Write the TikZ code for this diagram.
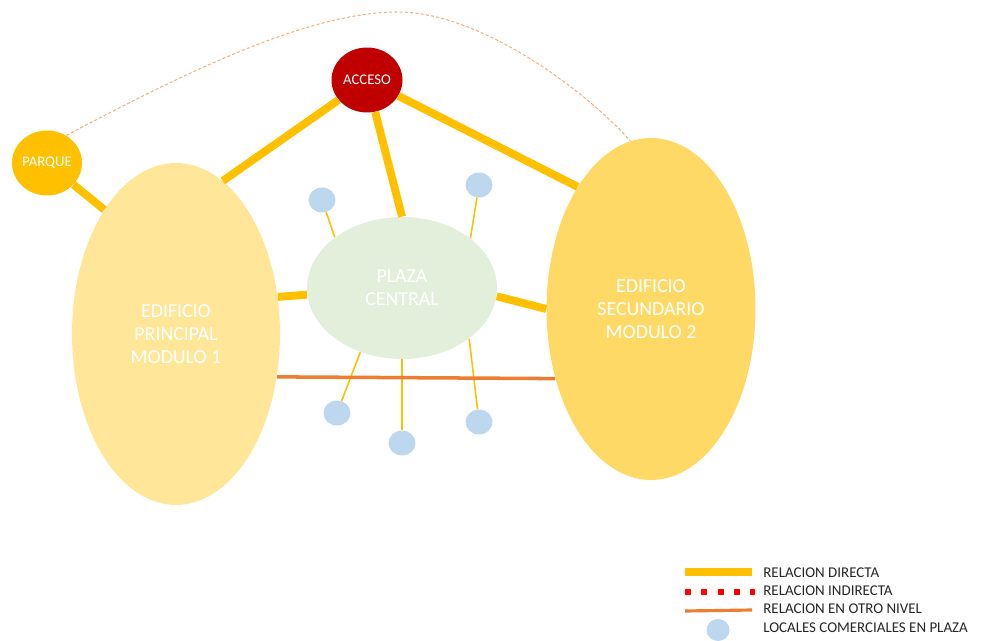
\documentclass[tikz,border=0pt]{standalone}
\usepackage{fontspec}
\setmainfont{Carlito}
\usetikzlibrary{shapes.geometric}
\definecolor{directa}{RGB}{255,192,0}
\definecolor{indirecta}{RGB}{255,0,0}
\definecolor{nivel}{RGB}{237,125,49}
\definecolor{curva}{RGB}{244,177,131}
\definecolor{acceso}{RGB}{192,0,0}
\definecolor{edifuno}{RGB}{255,230,153}
\definecolor{edifdos}{RGB}{255,217,102}
\definecolor{plaza}{RGB}{226,239,218}
\definecolor{local}{RGB}{189,215,238}

\begin{document}
\begin{tikzpicture}[x=0.02cm, y=-0.02cm,
    zona/.style={ellipse, inner sep=0pt, text=white, align=center, font=\fontsize{11.3}{13}\selectfont},
    punto/.style={ellipse, inner sep=0pt, text=white, font=\fontsize{8.4}{10}\selectfont},
    local/.style={ellipse, inner sep=0pt, fill=local, minimum width=0.54cm, minimum height=0.5cm},
    rdirecta/.style={draw=directa, line width=4.5pt},
    rlocal/.style={draw=directa, line width=0.9pt},
    rnivel/.style={draw=nivel, line width=2pt},
    leyenda/.style={anchor=west, inner sep=0pt, text=black!85, font=\fontsize{8.5}{10}\selectfont}]

  \newcommand{\loc}[3]{\node[local] (#1) at (#2, #3) {};}

  \useasboundingbox (0, 0) rectangle (982, 641);

  \begin{scope}
    \node[zona, fill=edifuno, minimum width=4.16cm, minimum height=6.84cm] (principal) at (176, 334) {EDIFICIO\\PRINCIPAL\\MODULO 1};
    \node[zona, fill=edifdos, minimum width=4.18cm, minimum height=6.84cm] (secundario) at (651, 309) {EDIFICIO\\SECUNDARIO\\MODULO 2};
    \node[zona, fill=plaza, minimum width=3.8cm, minimum height=2.84cm] (plaza) at (402, 288) {PLAZA\\CENTRAL};
    \node[punto, fill=directa, minimum width=1.4cm, minimum height=1.3cm] (parque) at (47, 163) {PARQUE};
    \node[punto, fill=acceso, minimum width=1.42cm, minimum height=1.3cm] (acceso) at (367, 80) {ACCESO};
%
 \loc{l1}{322}{200}
 \loc{l2}{479}{185}
 \loc{l3}{337}{413}
 \loc{l4}{402}{443}
 \loc{l5}{479}{422}
%
    \draw[rdirecta] (parque) -- (principal.120);
    \draw[rdirecta] (acceso) -- (principal.73);
    \draw[rdirecta] (acceso) -- (plaza.north);
    \draw[rdirecta] (acceso) -- (secundario.121);
    \draw[rdirecta] (principal.20) -- (plaza.184);
    \draw[rdirecta] (plaza.355) -- (secundario.west);
    \draw[rlocal] (l1) -- (plaza.143);
    \draw[rlocal] (l2) -- (plaza.36);
    \draw[rlocal] (l3) -- (plaza.237);
    \draw[rlocal] (l4) -- (plaza.south);
    \draw[rlocal] (l5) -- (plaza.-37);
    \draw[rnivel] (principal.-23) -- (secundario.216);
    \draw[curva, line width=0.6pt, dash pattern=on 1.8pt off 1.2pt]
      (parque.55) .. controls (190, 70) and (310, 12) .. (398, 12)
      .. controls (480, 12) and (585, 90) .. (secundario.97);
  \end{scope}

  \begin{scope}
    \draw[directa, line width=4pt] (685, 572) -- (752, 572);
    \draw[indirecta, line width=3.4pt, dash pattern=on 3.4pt off 5.9pt] (685, 592) -- (755, 592);
    \draw[nivel, line width=1.8pt] (685, 611) -- (752, 610);
    \node[local, minimum width=0.46cm, minimum height=0.44cm] (muestra) at (718, 630) {};
    \node[leyenda] (t1) at (763, 573) {RELACION DIRECTA};
    \node[leyenda] (t2) at (763, 591) {RELACION INDIRECTA};
    \node[leyenda] (t3) at (763, 609) {RELACION EN OTRO NIVEL};
    \node[leyenda] (t4) at (763, 628) {LOCALES COMERCIALES EN PLAZA};
  \end{scope}

\end{tikzpicture}
\end{document}
